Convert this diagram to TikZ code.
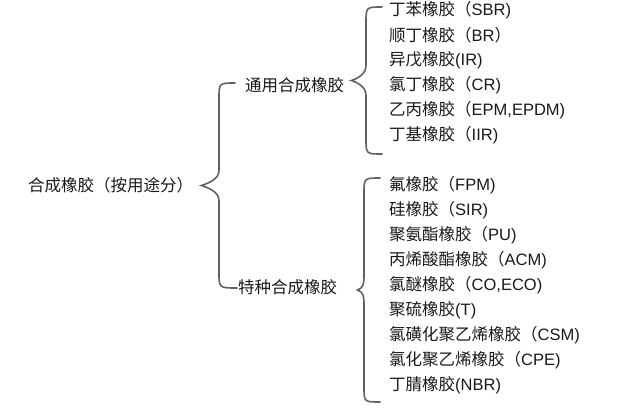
\documentclass[tikz,border=0pt]{standalone}
\usepackage{fontspec}
\setmainfont{Noto Sans CJK SC}
\newfontfamily\lat{Liberation Sans}
\newcommand\en[1]{{\lat #1}}
\usetikzlibrary{positioning,calc}

\tikzset{
  txt/.style={anchor=west, inner sep=0pt, text=black!90, font=\fontsize{16.5}{19}\selectfont},
  brc/.style={draw=black!62, line width=1.6pt, line cap=round},
}
\newcommand\curly[3]{%
  \draw[brc] let \p1=(#1), \p2=(#2), \p3=(#3), \p4=($(\p2)!.5!(\p3)$) in
    (\p2) .. controls (\x2-16pt,\y2) .. (\x2-16pt,\y2-16pt)
    -- (\x2-16pt,\y4+15pt) .. controls (\x2-16pt,\y4+6pt) and (\x1+6pt,\y4+2pt) .. (\x1,\y4)
    .. controls (\x1+6pt,\y4-2pt) and (\x2-16pt,\y4-6pt) .. (\x2-16pt,\y4-15pt)
    -- (\x2-16pt,\y3+16pt) .. controls (\x2-16pt,\y3) .. (\p3);}

\begin{document}
\begin{tikzpicture}[x=1pt,y=-1pt,node distance=25pt,on grid]
  \useasboundingbox (0,0) rectangle (627,414);
  \node[txt] (root) at (28,185) {合成橡胶（按用途分）};
  \node[txt] (gen) at (245,85) {通用合成橡胶};
  \node[txt] (spe) at (238,287) {特种合成橡胶};

  \node[txt] (a1) at (389,10) {丁苯橡胶（\en{SBR)}};
  \node[below=of a1.west,txt] (a2) {顺丁橡胶（\en{BR}）};
  \node[below=of a2.west,txt] (a3) {异戊橡胶\en{(IR)}};
  \node[below=of a3.west,txt] (a4) {氯丁橡胶（\en{CR)}};
  \node[below=of a4.west,txt] (a5) {乙丙橡胶（\en{EPM,EPDM)}};
  \node[below=of a5.west,txt] (a6) {丁基橡胶（\en{IIR)}};

  \node[txt] (b1) at (389,185) {氟橡胶（\en{FPM)}};
  \node[below=of b1.west,txt] (b2) {硅橡胶（\en{SIR)}};
  \node[below=of b2.west,txt] (b3) {聚氨酯橡胶（\en{PU)}};
  \node[below=of b3.west,txt] (b4) {丙烯酸酯橡胶（\en{ACM)}};
  \node[below=of b4.west,txt] (b5) {氯醚橡胶（\en{CO,ECO)}};
  \node[below=of b5.west,txt] (b6) {聚硫橡胶\en{(T)}};
  \node[below=of b6.west,txt] (b7) {氯磺化聚乙烯橡胶（\en{CSM)}};
  \node[below=of b7.west,txt] (b8) {氯化聚乙烯橡胶（\en{CPE)}};
  \node[below=of b8.west,txt] (b9) {丁腈橡胶\en{(NBR)}};

  \curly{$(root.east)+(8,0)$}{$(gen.west)+(-10,-2)$}{$(spe.west)+(-1,1)$}
  \curly{$(gen.east)+(7,0)$}{$(a1.west)+(-7,-3)$}{$(a6.west)+(-7,19)$}
  \curly{$(spe.east)+(20,0)$}{$(b1.west)+(-9,-7)$}{$(b9.west)+(-9,17)$}
\end{tikzpicture}
\end{document}
